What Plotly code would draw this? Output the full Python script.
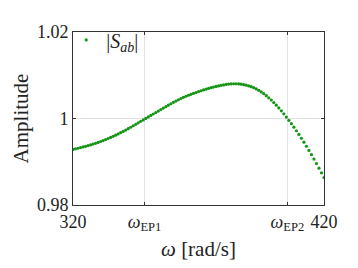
import plotly.graph_objects as go

# frequency axis (rad/s), one sample per rad/s
omega = list(range(320, 421))

# |S_ab|
s_ab = [
    0.99284, 0.99298, 0.99312, 0.99327, 0.99342, 0.99357, 0.99373, 0.99390, 0.99408, 0.99427,
    0.99447, 0.99468, 0.99490, 0.99513, 0.99537, 0.99562, 0.99588, 0.99615, 0.99643, 0.99672,
    0.99702, 0.99733, 0.99765, 0.99798, 0.99832, 0.99866, 0.99900, 0.99934, 0.99968, 1.00002,
    1.00036, 1.00070, 1.00104, 1.00138, 1.00172, 1.00206, 1.00240, 1.00274, 1.00308, 1.00341,
    1.00373, 1.00404, 1.00434, 1.00462, 1.00489, 1.00514, 1.00538, 1.00560, 1.00581, 1.00601,
    1.00622, 1.00642, 1.00661, 1.00679, 1.00696, 1.00712, 1.00727, 1.00741, 1.00754, 1.00766,
    1.00777, 1.00787, 1.00795, 1.00801, 1.00804, 1.00804, 1.00800, 1.00793, 1.00783, 1.00770,
    1.00754, 1.00735, 1.00712, 1.00684, 1.00651, 1.00614, 1.00573, 1.00528, 1.00479, 1.00426,
    1.00369, 1.00308, 1.00244, 1.00177, 1.00107, 1.00034, 0.99958, 0.99880, 0.99800, 0.99717,
    0.99631, 0.99543, 0.99452, 0.99358, 0.99262, 0.99163, 0.99061, 0.98957, 0.98851, 0.98743,
    0.98633,
]

# exceptional points on the frequency axis
omega_ep = [348.5, 405.4]

x_tickvals = [320, omega_ep[0], omega_ep[1], 420]
x_ticktext = ["320", "<i>ω</i><sub>EP1</sub>", "<i>ω</i><sub>EP2</sub>", "420"]
y_tickvals = [0.98, 1.0, 1.02]
y_ticktext = ["0.98", "1", "1.02"]

GREEN = "rgb(20,150,20)"
AXIS = "#333333"
GRID = "#e3e3e3"
TEXT = "#222222"
FONT = "Times New Roman, Liberation Serif, serif"

fig = go.Figure()
fig.add_trace(
    go.Scatter(
        x=omega,
        y=s_ab,
        mode="markers",
        name="|<i>S</i><sub><i>ab</i></sub>|",
        marker=dict(size=3.2, color=GREEN),
    )
)

axis_common = dict(
    showline=True,
    linecolor=AXIS,
    linewidth=1,
    mirror="ticks",
    ticks="inside",
    ticklen=3,
    tickcolor=AXIS,
    showgrid=True,
    gridcolor=GRID,
    gridwidth=1,
    zeroline=False,
    tickfont=dict(family=FONT, size=18, color=TEXT),
)

fig.update_xaxes(
    range=[320, 420],
    tickmode="array",
    tickvals=x_tickvals,
    ticktext=x_ticktext,
    title=dict(text="<i>ω</i> [rad/s]", font=dict(family=FONT, size=21, color=TEXT), standoff=7),
    **axis_common
)
fig.update_yaxes(
    range=[0.98, 1.02],
    tickmode="array",
    tickvals=y_tickvals,
    ticktext=y_ticktext,
    title=dict(text="Amplitude", font=dict(family=FONT, size=21, color=TEXT), standoff=2),
    **axis_common
)

# the page body has an 8px margin, so the figure is shifted by 8px
fig.update_layout(
    width=350,
    height=260,
    margin=dict(l=56, r=34, t=12, b=61),
    plot_bgcolor="white",
    paper_bgcolor="white",
    font=dict(family=FONT, size=18, color=TEXT),
    showlegend=True,
    legend=dict(
        x=-0.027,
        y=1.067,
        xanchor="left",
        yanchor="top",
        bgcolor="rgba(0,0,0,0)",
        borderwidth=0,
        font=dict(family=FONT, size=20),
        itemwidth=30,
    ),
)

fig.write_html("out.html")
